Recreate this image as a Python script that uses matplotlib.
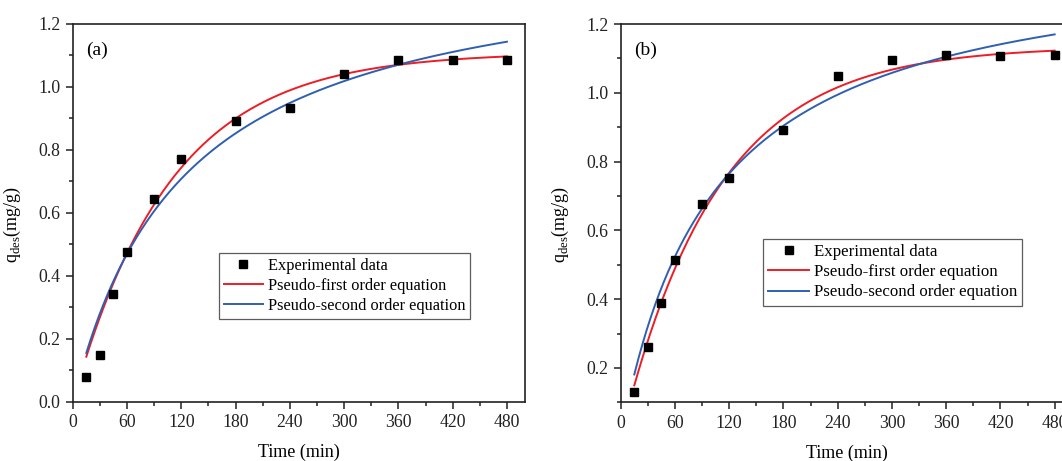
import numpy as np
import matplotlib
matplotlib.use("Agg")
import matplotlib.pyplot as plt
from matplotlib.ticker import MultipleLocator

plt.rcParams['font.family'] = ['Liberation Serif', 'DejaVu Serif']
plt.rcParams['mathtext.fontset'] = 'custom'
plt.rcParams['mathtext.rm'] = 'Liberation Serif'

# Desorption time points (min)
time_a = [15, 30, 45, 60, 90, 120, 180, 240, 300, 360, 420, 480]
time_b = [15, 30, 45, 60, 90, 120, 180, 240, 300, 360, 420, 480]

# Measured desorption capacity q_des (mg/g)
qdes_a = [0.078, 0.148, 0.342, 0.477, 0.644, 0.772, 0.891, 0.932, 1.041, 1.087, 1.087, 1.087]
qdes_b = [0.129, 0.260, 0.390, 0.514, 0.676, 0.752, 0.893, 1.048, 1.094, 1.111, 1.108, 1.109]

# Fitted kinetic parameters: pseudo-first order (qe, k1), pseudo-second order (qe, k2)
pfo_a = (1.11, 0.00925)
pso_a = (1.438, 0.00563)
pfo_b = (1.135, 0.0094)
pso_b = (1.42, 0.00686)

legend_labels = ["Experimental data", "Pseudo-first order equation",
                 "Pseudo-second order equation"]
panel_tags = ["(a)", "(b)"]

RED = '#ee1c25'
BLUE = '#2f5fb3'


def pseudo_first(t, qe, k1):
    return qe * (1 - np.exp(-k1 * t))


def pseudo_second(t, qe, k2):
    return qe ** 2 * k2 * t / (1 + qe * k2 * t)


fig = plt.figure(figsize=(10.62, 4.61), dpi=100)
ax_a = fig.add_axes([0.0685, 0.128, 0.4259, 0.820])
ax_b = fig.add_axes([0.5845, 0.1273, 0.4256, 0.8206])

panels = [
    (ax_a, time_a, qdes_a, pfo_a, pso_a, (0.0, 1.2), (0.323, 0.394), panel_tags[0], 11.8),
    (ax_b, time_b, qdes_b, pfo_b, pso_b, (0.1, 1.2), (0.315, 0.432), panel_tags[1], 12.2),
]

for ax, t, q, pfo, pso, ylim, leg_anchor, tag, leg_fs in panels:
    tt = np.linspace(min(t), max(t), 300)
    ax.plot(t, q, 's', color='black', markersize=6, label=legend_labels[0], zorder=3)
    ax.plot(tt, pseudo_first(tt, *pfo), color=RED, lw=1.4, label=legend_labels[1])
    ax.plot(tt, pseudo_second(tt, *pso), color=BLUE, lw=1.4, label=legend_labels[2])

    ax.set_xlim(0, 500)
    ax.set_ylim(*ylim)
    ax.xaxis.set_major_locator(MultipleLocator(60))
    ax.xaxis.set_minor_locator(MultipleLocator(30))
    ax.yaxis.set_major_locator(MultipleLocator(0.2))
    ax.yaxis.set_minor_locator(MultipleLocator(0.1))
    ax.yaxis.set_major_formatter(matplotlib.ticker.FormatStrFormatter('%.1f'))
    ax.tick_params(which='both', direction='out', top=False, right=False,
                   labelsize=12.8, width=1.1, colors='#222222')
    ax.tick_params(which='major', length=5, pad=4)
    ax.tick_params(which='minor', length=3)
    for sp in ax.spines.values():
        sp.set_linewidth(1.2)
        sp.set_color('#222222')

    ax.set_xlabel("Time (min)", fontsize=13, labelpad=9)
    ax.set_ylabel(r"q$_{\rm des}$(mg/g)", fontsize=13, labelpad=6)
    ax.yaxis.set_label_coords(-0.11, 0.47)
    ax.text(0.03, 0.93, tag, transform=ax.transAxes, fontsize=14,
            ha='left', va='center')

    leg = ax.legend(loc='upper left', bbox_to_anchor=leg_anchor, fontsize=leg_fs,
                    frameon=True, fancybox=False, edgecolor='#333333',
                    borderpad=0.3, labelspacing=0.25, handlelength=2.4,
                    handletextpad=0.3, borderaxespad=0)
    leg.get_frame().set_linewidth(0.9)

fig.savefig("out.png", dpi=100)
